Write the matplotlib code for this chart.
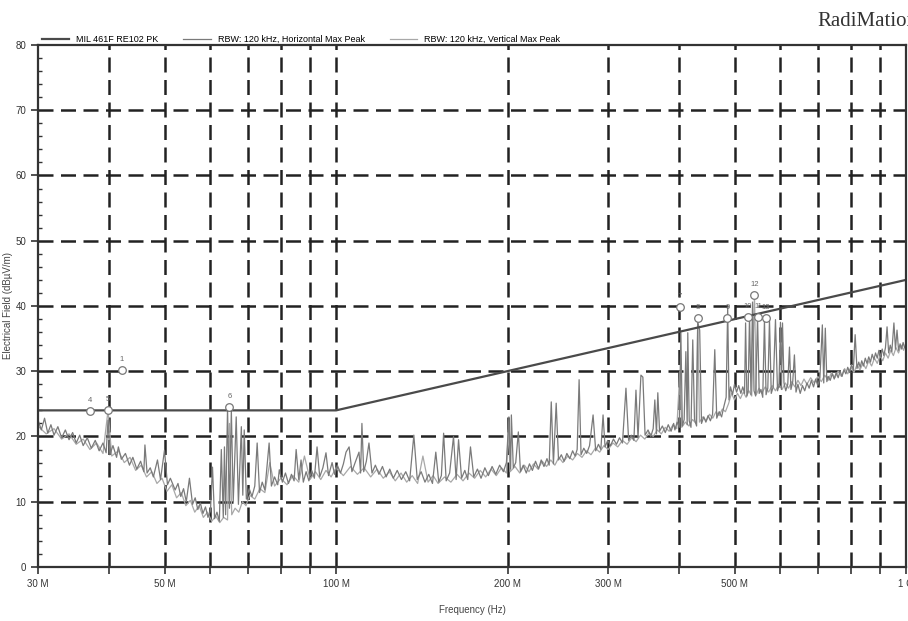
import matplotlib
matplotlib.use("Agg")
import matplotlib.pyplot as plt
from matplotlib.ticker import FixedLocator, NullFormatter, MultipleLocator

# ---------- DATA (MHz, dBuV/m) ---------- #
limit_freq = [30, 100, 1000]
limit_level = [24.0, 24.0, 44.0]

h_freq = [30.0, 30.4, 30.8, 31.2, 31.6, 32.0, 32.5, 33.0, 33.5, 34.0, 34.5, 35.0, 35.5, 36.0, 36.6, 37.2,
          37.8, 38.4, 39.0, 39.5, 39.8, 40.1, 40.6, 41.2, 41.5, 42.0, 42.7, 43.4, 44.0, 44.7, 45.4, 46.0,
          46.2, 46.6, 47.2, 47.8, 48.6, 49.2, 50.0, 50.6, 51.2, 52.2, 52.8, 53.4, 54.0, 54.6, 55.3, 56.0,
          56.6, 57.2, 57.8, 58.4, 59.0, 59.6, 60.2, 60.7, 61.2, 61.8, 62.4, 62.9, 63.4, 63.7, 64.0, 64.5,
          65.0, 65.5, 66.0, 66.8, 67.4, 68.2, 68.6, 69.0, 69.6, 70.4, 71.2, 72.0, 72.7, 73.4, 74.2, 75.0,
          76.3, 77.0, 78.0, 79.0, 79.5, 80.5, 81.5, 82.5, 83.5, 84.4, 85.1, 86.0, 86.8, 87.6, 88.6, 89.6,
          90.6, 91.6, 92.6, 93.6, 94.8, 96.0, 97.0, 98.4, 99.4, 100.5, 101.8, 103.0, 104.1, 105.4, 106.6,
          108.0, 109.7, 110.4, 111.0, 111.8, 113.0, 114.2, 115.6, 117.2, 118.9, 120.6, 122.4, 124.2, 126.0,
          128.0, 130.2, 132.5, 134.6, 136.9, 138.8, 141.0, 143.2, 145.4, 147.6, 149.6, 151.4, 153.0, 154.4,
          156.0, 158.2, 160.7, 162.4, 164.0, 166.0, 168.2, 170.2, 172.1, 174.4, 177.0, 179.6, 182.4, 185.0,
          187.8, 190.6, 193.6, 196.6, 199.0, 201.0, 202.4, 203.0, 204.6, 206.6, 208.8, 210.6, 213.0, 215.6,
          218.4, 221.0, 223.8, 226.6, 229.0, 231.6, 234.4, 236.5, 238.5, 240.6, 243.3, 245.6, 248.4, 251.2,
          254.0, 257.0, 260.0, 262.6, 264.8, 266.9, 269.0, 272.0, 275.2, 278.4, 282.4, 285.4, 288.6, 291.4,
          294.0, 296.4, 299.6, 303.0, 306.6, 310.4, 314.2, 318.0, 322.5, 326.0, 329.6, 333.0, 335.8, 338.6,
          342.6, 345.3, 348.4, 352.6, 356.6, 360.0, 362.4, 364.8, 366.8, 369.4, 373.6, 378.0, 382.6, 387.0,
          391.0, 393.0, 396.6, 400.0, 402.6, 405.0, 408.0, 410.8, 413.0, 414.0, 416.4, 419.4, 422.4, 425.4,
          429.0, 431.0, 434.4, 437.6, 441.6, 445.4, 449.4, 453.6, 457.6, 461.7, 465.4, 470.0, 474.6, 479.0,
          483.4, 486.4, 489.0, 492.0, 496.0, 500.0, 504.2, 508.6, 513.0, 517.0, 520.7, 522.9, 525.6, 528.4,
          531.3, 534.4, 537.8, 541.0, 544.6, 548.8, 552.4, 556.4, 560.4, 564.3, 568.0, 572.0, 575.9, 580.0,
          584.6, 590.0, 594.9, 598.4, 602.0, 604.4, 607.0, 610.6, 615.0, 620.0, 624.3, 628.0, 632.6, 636.9,
          641.0, 646.0, 652.0, 658.0, 664.0, 670.0, 676.0, 682.0, 688.0, 694.0, 700.0, 706.0, 713.0, 717.0,
          721.6, 726.0, 730.0, 736.0, 742.0, 748.0, 754.0, 760.0, 766.0, 772.0, 778.0, 784.0, 790.0, 796.0,
          802.0, 808.0, 814.0, 820.0, 826.0, 830.7, 836.0, 842.0, 848.0, 854.0, 860.0, 866.0, 872.0, 878.0,
          884.0, 890.0, 896.0, 902.0, 908.0, 914.0, 920.0, 926.0, 932.0, 938.0, 944.0, 952.0, 958.0, 964.0,
          970.0, 976.0, 982.0, 988.0, 994.0, 1000.0]
h_level = [22.5, 21.0, 22.8, 20.5, 21.8, 20.2, 21.5, 19.8, 21.0, 19.5, 20.6, 19.0, 20.2, 18.6, 19.8, 18.2,
           19.4, 17.8, 19.0, 17.5, 22.5, 17.2, 18.6, 16.8, 18.4, 16.5, 17.4, 15.6, 16.8, 15.0, 16.2, 14.6,
           18.7, 14.4, 15.2, 13.8, 16.4, 13.4, 17.9, 12.6, 13.6, 11.8, 12.8, 10.8, 12.0, 10.0, 13.6, 9.6,
           10.6, 8.8, 9.8, 8.2, 9.2, 7.6, 8.6, 15.3, 7.4, 8.4, 7.0, 18.0, 7.6, 18.4, 8.0, 24.3,
           9.0, 24.0, 10.0, 23.0, 9.6, 21.5, 11.0, 21.0, 10.4, 12.0, 10.8, 12.4, 19.0, 11.4, 13.0, 11.8,
           19.0, 12.4, 13.8, 12.6, 14.9, 13.0, 14.4, 12.8, 14.2, 13.2, 18.0, 13.4, 16.4, 13.0, 14.6, 13.2,
           14.8, 13.6, 18.4, 13.8, 15.2, 17.5, 14.0, 16.0, 14.2, 15.6, 14.4, 15.8, 17.6, 18.4, 14.6,
           16.0, 17.6, 14.4, 22.0, 14.6, 16.2, 19.0, 14.4, 15.6, 14.2, 15.4, 13.8, 15.0, 13.6,
           14.8, 13.4, 14.6, 13.2, 20.2, 13.4, 14.6, 13.0, 14.2, 12.8, 17.6, 13.0, 14.0, 20.5,
           13.2, 14.4, 20.0, 13.4, 19.5, 13.6, 14.8, 13.4, 18.4, 13.8, 15.0, 13.6, 15.2, 14.0,
           15.4, 14.2, 15.6, 14.6, 16.0, 23.0, 15.0, 23.3, 15.2, 16.0, 20.7, 14.6, 15.6, 14.4,
           15.8, 14.8, 16.2, 15.0, 16.4, 15.4, 16.6, 15.6, 25.3, 15.8, 25.1, 16.4, 17.2, 16.2,
           17.4, 16.6, 17.8, 17.0, 18.0, 28.7, 17.2, 18.2, 17.4, 18.6, 23.3, 17.8, 18.8, 18.0,
           23.3, 18.4, 19.4, 18.6, 19.6, 18.8, 19.8, 19.0, 27.4, 19.4, 20.2, 19.4, 27.1, 19.8,
           29.4, 29.1, 20.2, 21.0, 20.0, 21.2, 25.6, 20.4, 26.7, 20.8, 21.6, 20.6, 21.8, 20.8,
           22.0, 21.0, 22.2, 21.4, 35.9, 21.6, 22.6, 33.0, 21.8, 35.9, 22.4, 21.4, 34.8, 22.6,
           21.6, 37.5, 36.3, 22.0, 23.0, 22.2, 23.2, 22.4, 23.4, 33.3, 22.8, 23.8, 23.0, 24.6,
           26.0, 39.8, 25.6, 27.6, 26.4, 28.0, 26.8, 27.8, 26.6, 27.6, 26.6, 37.4, 26.2, 27.0,
           38.6, 26.4, 40.6, 27.0, 26.2, 38.3, 26.6, 27.2, 26.0, 37.9, 26.4, 27.4, 37.9, 26.6,
           27.6, 37.9, 27.0, 27.8, 37.5, 27.2, 37.4, 28.2, 27.0, 28.0, 33.7, 27.2, 28.4, 32.5,
           26.8, 28.0, 26.6, 27.8, 27.0, 28.2, 27.4, 28.6, 27.6, 28.8, 27.8, 29.0, 37.1, 28.2,
           36.6, 28.4, 29.2, 28.6, 29.6, 28.8, 29.8, 29.0, 30.0, 29.2, 30.2, 29.6, 30.6, 29.8,
           31.0, 30.2, 35.6, 30.4, 31.4, 30.6, 31.6, 30.8, 32.0, 31.2, 32.2, 31.4, 32.6, 31.8,
           32.8, 32.0, 33.2, 32.2, 33.4, 32.4, 33.6, 36.8, 32.8, 34.0, 33.0, 37.4, 33.4, 36.3,
           33.2, 34.2, 33.4, 34.4, 33.6, 34.0]

v_freq = [30, 31, 32, 33, 34, 35, 36, 37, 38, 39, 39.8, 40.4, 41.5, 42.5, 43.5, 44.5, 45.5, 46.5, 47.5,
          48.5, 49.5, 50.5, 51.5, 52.5, 53.5, 54.5, 55.5, 56.5, 57.5, 58.5, 59.5, 60.5, 61.5, 62.5, 63.5,
          64.5, 65.0, 65.6, 66.5, 67.5, 68.5, 69.5, 70.5, 72, 73.5, 75, 76.5, 78, 80, 82, 84, 86, 88, 90,
          92, 94, 96, 98, 100, 103, 106, 109, 112, 115, 118, 121, 124, 127, 130, 133, 136, 139, 142, 145,
          148, 151, 155, 159, 163, 167, 171, 175, 179, 183, 187, 191, 195, 199, 200.5, 202, 206, 210, 214,
          218, 222, 226, 230, 234, 238, 242, 246, 250, 255, 260, 265, 270, 275, 280, 285, 290, 295, 300,
          306, 312, 318, 324, 330, 336, 342, 348, 354, 360, 366, 372, 378, 384, 390, 396, 401, 404, 410,
          416, 422, 428, 431, 434, 440, 446, 452, 458, 464, 470, 476, 482, 488, 494, 500, 506, 512, 518,
          524, 530, 536, 542, 546, 552, 558, 566, 574, 582, 590, 598, 606, 614, 622, 630, 638, 646, 654,
          662, 670, 680, 690, 700, 710, 720, 730, 740, 750, 760, 770, 780, 790, 800, 810, 820, 830, 840,
          850, 860, 870, 880, 890, 900, 910, 920, 930, 940, 950, 960, 970, 980, 990, 1000]
v_level = [21.6, 20.4, 21.2, 19.6, 20.4, 18.8, 19.6, 18.0, 19.0, 17.4, 24.0, 17.0, 17.8, 16.0, 16.8, 14.8,
           15.6, 13.8, 14.6, 12.8, 13.6, 11.6, 12.6, 10.6, 11.4, 9.4, 10.2, 8.4, 9.4, 7.6, 8.4, 7.0, 7.8,
           6.8, 7.6, 7.2, 22.0, 8.0, 9.0, 8.4, 10.0, 9.4, 11.0, 10.4, 12.0, 11.4, 16.0, 12.4, 13.6, 12.6,
           14.0, 13.0, 17.0, 13.4, 14.6, 13.4, 14.8, 13.8, 15.2, 14.0, 15.4, 14.2, 15.2, 13.8, 15.0, 13.6,
           14.6, 13.2, 14.4, 13.0, 14.0, 12.8, 17.0, 13.0, 14.0, 12.8, 13.8, 13.0, 14.2, 13.2, 14.4, 13.6,
           14.8, 13.8, 15.0, 14.0, 15.2, 14.4, 21.0, 14.6, 15.4, 14.4, 15.6, 14.6, 15.8, 15.0, 16.2, 15.4,
           16.4, 15.6, 16.8, 16.0, 17.0, 16.4, 17.4, 16.8, 17.8, 17.2, 18.2, 17.6, 18.6, 18.0, 19.0, 18.4,
           19.4, 18.8, 19.8, 19.2, 20.2, 19.6, 20.6, 20.0, 21.0, 20.4, 21.4, 20.8, 21.8, 21.2, 30.0, 21.4,
           22.2, 21.6, 22.6, 22.0, 38.2, 22.2, 23.0, 22.4, 23.4, 22.8, 23.8, 23.2, 24.2, 23.8, 25.0, 26.6,
           25.6, 26.6, 25.8, 26.8, 26.0, 27.0, 26.2, 41.7, 26.4, 27.4, 26.6, 27.6, 26.8, 27.8, 27.0, 28.0,
           27.2, 28.2, 27.4, 28.4, 27.6, 28.6, 27.8, 28.8, 28.0, 29.0, 28.2, 29.2, 28.4, 29.4, 28.6, 29.8,
           29.0, 30.0, 29.2, 30.4, 29.6, 30.6, 29.8, 31.0, 30.2, 31.2, 30.4, 31.6, 30.8, 32.0, 31.2, 32.4,
           31.6, 32.8, 32.0, 33.2, 32.4, 33.6, 32.8, 34.0, 33.2, 34.4]

marker_freq = [42.1, 37.0, 39.8, 65.0, 401, 431, 486, 528, 550, 542, 567]
marker_level = [30.2, 23.9, 24.1, 24.5, 39.8, 38.2, 38.2, 38.3, 38.3, 41.7, 38.2]
marker_label = ["1", "4", "5", "6", "7", "8", "9", "10", "11", "12", "13"]

grid_freq = [40, 50, 60, 70, 80, 90, 100, 200, 300, 400, 500, 600, 700, 800, 900]
tick_freq = [30, 50, 100, 200, 300, 500, 1000]
tick_text = ["30 M", "50 M", "100 M", "200 M", "300 M", "500 M", "1 G"]

# ---------- PLOT ---------- #
plt.rcParams['font.family'] = ['Liberation Sans Narrow', 'Liberation Sans', 'DejaVu Sans']

fig = plt.figure(figsize=(9.08, 6.21), dpi=100)
ax = fig.add_axes([0.0419, 0.087, 0.956, 0.8406])

ax.plot(v_freq, v_level, color="#a8a8a8", lw=0.9, label="RBW: 120 kHz, Vertical Max Peak")
ax.plot(h_freq, h_level, color="#7a7a7a", lw=0.9, label="RBW: 120 kHz, Horizontal Max Peak")
ax.plot(limit_freq, limit_level, color="#4a4a4a", lw=1.6, label="MIL 461F RE102 PK")

ax.scatter(marker_freq, marker_level, s=30, facecolors="white", edgecolors="#777777",
           linewidths=0.9, zorder=5)
for f, lv, t in zip(marker_freq, marker_level, marker_label):
    ax.annotate(t, (f, lv), xytext=(0, 5), textcoords="offset points", ha="center",
                va="bottom", fontsize=5.5, color="#666666")

ax.set_xscale("log")
ax.set_xlim(30, 1000)
ax.set_ylim(0, 80)

ax.xaxis.set_major_locator(FixedLocator(tick_freq))
ax.xaxis.set_major_formatter(plt.FixedFormatter(tick_text))
ax.xaxis.set_minor_locator(FixedLocator(grid_freq))
ax.xaxis.set_minor_formatter(NullFormatter())
ax.yaxis.set_major_locator(MultipleLocator(10))
ax.yaxis.set_minor_locator(MultipleLocator(2))

ax.tick_params(axis="both", which="major", labelsize=7, colors="#333333", length=5, width=1.2)
ax.tick_params(axis="x", which="minor", length=5, width=1.2, color="#333333")
ax.tick_params(axis="y", which="minor", direction="in", length=3, width=1.0, color="#333333")

for f in grid_freq:
    ax.axvline(f, color="#222222", lw=1.8, ls=(0, (6, 3)), zorder=1)
for lv in range(10, 80, 10):
    ax.axhline(lv, color="#222222", lw=1.8, ls=(0, (6, 3)), zorder=1)

for s in ax.spines.values():
    s.set_color("#333333")
    s.set_linewidth(1.6)

ax.set_xlabel("Frequency (Hz)", fontsize=7, color="#444444", labelpad=12)
ax.set_ylabel("Electrical Field (dB\u00b5V/m)", fontsize=7, color="#444444", labelpad=2)

h, l = ax.get_legend_handles_labels()
ax.legend(h[::-1], l[::-1], loc="lower left", bbox_to_anchor=(0.0, 0.995), ncol=3, frameon=False,
          fontsize=6.5, handlelength=3.0, columnspacing=2.8, borderaxespad=0.0)

fig.text(0.90, 0.965, "RadiMation", fontsize=15, family="Liberation Serif", color="#333333",
         ha="left", va="center")

fig.savefig("out.png", dpi=100)
